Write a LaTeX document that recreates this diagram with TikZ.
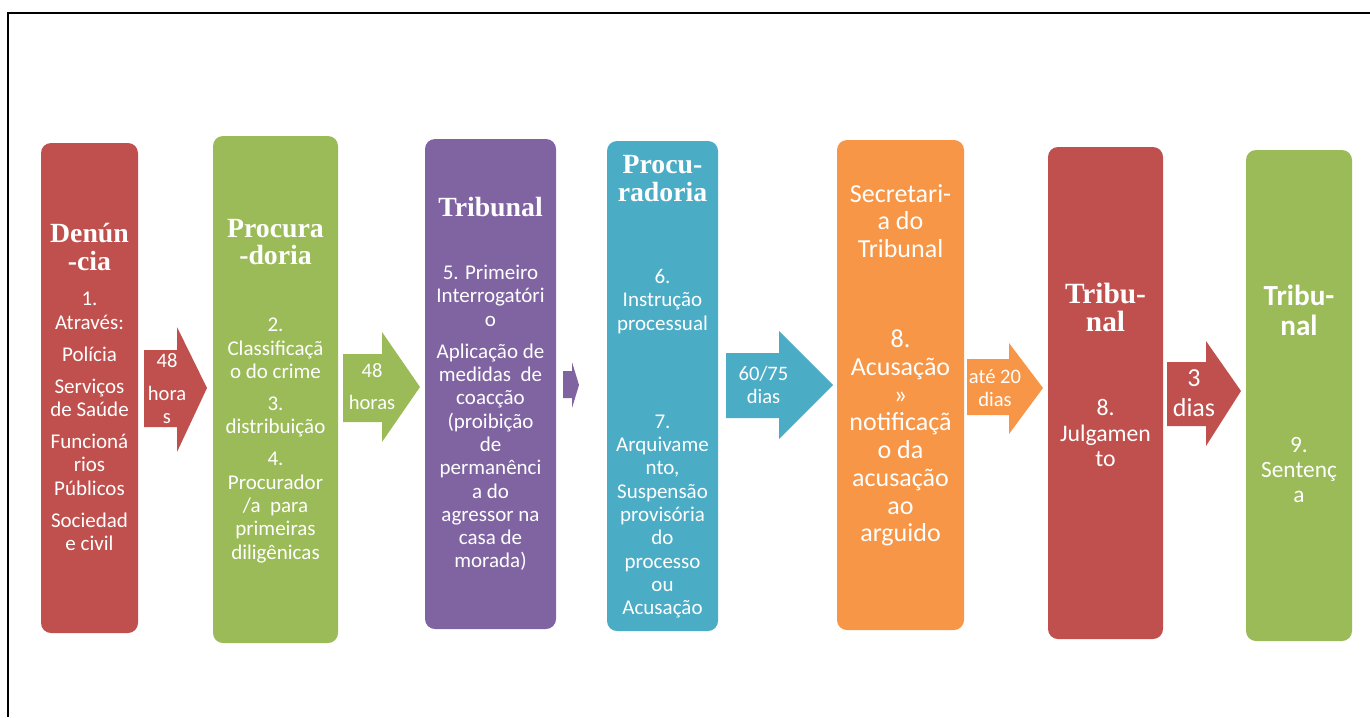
\documentclass[tikz,border=0pt]{standalone}
\usepackage{fontspec}
\setmainfont{Carlito}
\newfontfamily\headserif{Liberation Serif}
\usepackage{tikz}

\definecolor{accred}{HTML}{C0504D}
\definecolor{accgreen}{HTML}{9BBB59}
\definecolor{accpurple}{HTML}{8064A2}
\definecolor{accteal}{HTML}{4BACC6}
\definecolor{accorange}{HTML}{F79646}

\tikzset{
	stage/.style={rounded corners=0.2cm},
	txt/.style={text=white, align=center, inner sep=0pt, font=\fontsize{11.95}{13.26}\selectfont},
	arrtxt/.style={text=white, align=center, inner sep=0pt, font=\fontsize{11.7}{13}\selectfont},
	head/.style={text=white, align=center, inner sep=0pt, font=\headserif\bfseries\fontsize{15.8}{15.8}\selectfont},
}

\begin{document}
\begin{tikzpicture}
					\useasboundingbox (0,0) rectangle (27.4,-14.34);
					\draw[black, line width=1pt](0.166,-14.34)--(0.166,-0.254)--(27.4,-0.254);

					% Denuncia
					\fill[stage, accred](0.82,-2.86)rectangle(2.76,-12.66);
					\node[head] (denHead) at (1.79,-4.94){Denún\\-cia};
					\node[txt] (denBody) at (1.79,-8.43){1.\\Através:\\[5pt]Polícia\\[5pt]Serviços\\de Saúde\\[5pt]Funcioná\\rios\\Públicos\\[5pt]Sociedad\\e civil};
					\fill[accred](2.88,-7.00)--(3.54,-7.00)--(3.54,-6.54)--(4.14,-7.76)--(3.54,-9.04)--(3.54,-8.54)--(2.88,-8.54)--cycle;
					\node[arrtxt] (arrA) at (3.34,-7.77){48\\[5.7pt]hora\\s};

					% Procuradoria
					\fill[stage, accgreen](4.26,-2.72)rectangle(6.76,-12.86);
					\node[head] (procHead) at (5.51,-4.84){Procura\\-doria};
					\node[txt] (procBody) at (5.51,-8.81){2.\\Classificaçã\\o do crime\\[5pt]3.\\distribuição\\[5pt]4.\\Procurador\\/a~ para\\primeiras\\diligênicas};
					\fill[accgreen](6.86,-7.08)--(7.64,-7.08)--(7.64,-6.64)--(8.40,-7.74)--(7.64,-8.84)--(7.64,-8.44)--(6.86,-8.44)--cycle;
					\node[arrtxt] (arrB) at (7.44,-7.73){48\\[5.7pt]horas};

					% Tribunal
					\fill[stage, accpurple](8.50,-2.78)rectangle(11.12,-12.58);
					\node[head] (tribHead) at (9.81,-4.14){Tribunal};
					\node[txt] (tribBody) at (9.81,-8.36){5. Primeiro\\Interrogatóri\\o\\[5pt]Aplicação de\\medidas~ de\\coacção\\(proibição\\de\\permanênci\\a do\\agressor na\\casa de\\morada)};
					\fill[accpurple](11.26,-7.42)--(11.44,-7.42)--(11.44,-7.24)--(11.58,-7.70)--(11.44,-8.16)--(11.44,-7.96)--(11.26,-7.96)--cycle;

					% Procuradoria (instrucao)
					\fill[stage, accteal](12.14,-2.82)rectangle(14.36,-12.62);
					\node[head] (instHead) at (13.25,-3.57){Procu-\\radoria};
					\node[txt] (instBody) at (13.25,-6.03){6.\\Instrução\\processual};
					\node[txt] (arqBody) at (13.25,-10.33){7.\\Arquivame\\nto,\\Suspensão\\provisória\\do\\processo\\ou\\Acusação};
					\fill[accteal](14.52,-7.06)--(15.58,-7.06)--(15.58,-6.62)--(16.66,-7.70)--(15.58,-8.78)--(15.58,-8.36)--(14.52,-8.36)--cycle;
					\node[arrtxt] (arrD) at (15.27,-7.70){60/75\\dias};

					% Secretaria
					\fill[stage, accorange](16.74,-2.80)rectangle(19.28,-12.60);
					\node[txt, font=\fontsize{14.8}{15.8}\selectfont] (secHead) at (18.01,-4.42){Secretari-\\a do\\Tribunal};
					\node[txt, font=\fontsize{14.8}{15.8}\selectfont] (secBody) at (18.01,-8.76){8.\\Acusação\\»\\notificaçã\\o da\\acusação\\ao\\arguido};
					\fill[accorange](19.34,-7.18)--(20.18,-7.18)--(20.18,-6.86)--(20.86,-7.76)--(20.18,-8.68)--(20.18,-8.30)--(19.34,-8.30)--cycle;
					\node[arrtxt] (arrE) at (19.90,-7.76){até 20\\dias};

					% Julgamento
					\fill[stage, accred](20.96,-2.94)rectangle(23.26,-12.78);
					\node[head, font=\headserif\bfseries\fontsize{16.7}{16.2}\selectfont] (julgHead) at (22.11,-6.15){Tribu-\\nal};
					\node[txt, font=\fontsize{13.5}{14.5}\selectfont] (julgBody) at (22.11,-8.66){8.\\Julgamen\\to};
					\fill[accred](23.34,-7.24)--(24.12,-7.24)--(24.12,-6.82)--(24.82,-7.82)--(24.12,-8.92)--(24.12,-8.52)--(23.34,-8.52)--cycle;
					\node[arrtxt, font=\fontsize{14.8}{17}\selectfont] (arrF) at (23.88,-7.86){3\\dias};

					% Sentenca
					\fill[stage, accgreen](24.92,-3.00)rectangle(27.04,-12.82);
					\node[txt, font=\bfseries\fontsize{16.6}{17}\selectfont] (sentHead) at (25.98,-6.20){Tribu-\\nal};
					\node[txt, font=\fontsize{13.3}{14.5}\selectfont] (sentBody) at (25.98,-9.40){9.\\Sentenç\\a};
\end{tikzpicture}
\end{document}
